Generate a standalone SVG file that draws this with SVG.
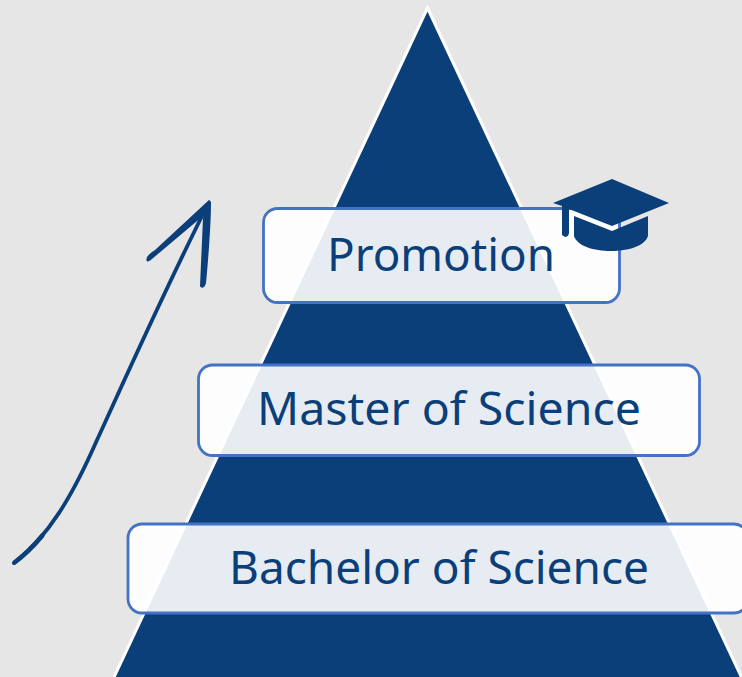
<svg xmlns="http://www.w3.org/2000/svg" width="742" height="677" viewBox="0 0 742 677">
<style>
.box{fill:#fff;fill-opacity:.9;stroke:#4472c4;stroke-width:2.800}
.lbl{font-family:"Noto Sans","Open Sans",sans-serif;font-size:46px;fill:#0b3f7a;text-anchor:middle}
.ink{fill:#0b3f7a}
.shaft{fill:none;stroke:#0b3f7a;stroke-linecap:round}
</style>
<rect width="742" height="677" fill="#e6e6e6"/>
<polygon id="pyramid" points="427.500,8 747,689 108.500,689" fill="#0b3f7a" stroke="#fff" stroke-width="3"/>
<g id="connectors">
<path class="shaft" stroke-width="3.800" d="M14 563C48 537 72 497 97 440C120 390 160 300 206 208"/>
<path class="shaft" stroke-width="4.600" d="M14.500 562.500C24.200 555.200 33.500 546.100 42.200 535.700"/>
<path class="ink" d="M209 200L211 202C211 225 208 262 206 283C205 288 201 289 200 286L203 218Z"/>
<path class="ink" d="M209 200L211 203L203 216L152 259C148 263 145 262 147 257C149 254 152 252 155 250Z"/>
</g>
<g id="node-promotion">
<rect class="box" x="263.500" y="208.500" width="356" height="94" rx="14"/>
<text class="lbl" x="441" y="271" textLength="228" lengthAdjust="spacingAndGlyphs">Promotion</text>
</g>
<g id="node-master">
<rect class="box" x="198.500" y="365" width="501" height="90.500" rx="14"/>
<text class="lbl" x="449" y="425" textLength="384" lengthAdjust="spacingAndGlyphs">Master of Science</text>
</g>
<g id="node-bachelor">
<rect class="box" x="128" y="524" width="620" height="89" rx="14"/>
<text class="lbl" x="439" y="584" textLength="420" lengthAdjust="spacingAndGlyphs">Bachelor of Science</text>
</g>
<g id="graduation-cap">
<polygon class="ink" points="612,179 669,203 612,226 569,209 569,233 568,236 565,237 562,235 562,232 562,206 553,203"/>
<path class="ink" d="M574 216L612 231L648 216V236C645 246 628 251 611 251C594 251 577 246 574 236Z"/>
</g>
</svg>
